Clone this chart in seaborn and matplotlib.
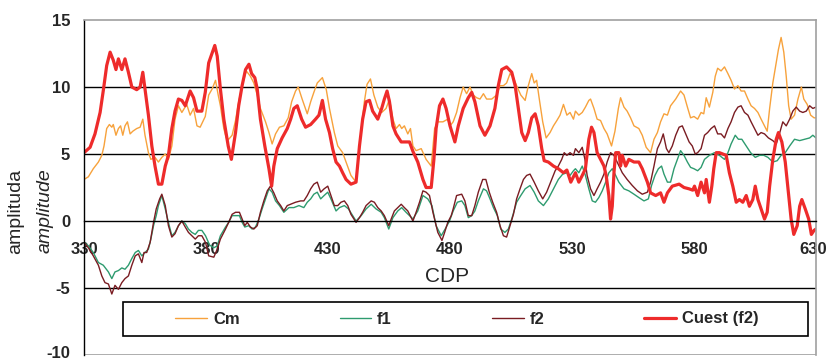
import matplotlib
matplotlib.use("Agg")
import matplotlib.pyplot as plt
import matplotlib.transforms as mtransforms
import seaborn as sns
from matplotlib.patches import Rectangle

# ---------------- data ----------------
cm_x = [330, 331.8, 333.8, 335.9, 337.3, 338.2, 339.3, 340.4, 341.4, 342, 343.1, 344.1, 345, 345.9, 346.8,
        347.8, 348.9, 350, 351.6, 353, 354.1, 355, 356.4, 357.4, 359.1, 360.5, 361.9, 363.3, 364.6, 366,
        367.3, 368.7, 370.1, 372.1, 373.5, 374.9, 376.3, 377.6, 379.7, 381.1, 382.5, 383.9, 385, 385.9,
        387.3, 388.3, 389.3, 390.7, 392.1, 393.4, 394.8, 396.5, 398.2, 399.6, 401, 402.3, 404.4, 405.8,
        407.1, 408.5, 410.1, 411.9, 413.7, 415.1, 416.7, 417.8, 419.4, 421.5, 422.9, 424.2, 425.6, 427.7,
        429.3, 430.6, 432.6, 434, 436, 437.4, 439.4, 441.5, 443.5, 444.9, 446, 447.4, 448.8, 450.4, 452,
        453.8, 455.2, 456.6, 457.9, 459.3, 460.2, 461.3, 462.7, 463.8, 464.8, 466.1, 468.2, 470.2, 472.3,
        473.7, 475, 477.1, 479.1, 480, 481.3, 482.7, 484.1, 485.4, 486.8, 488.2, 489.5, 490.9, 492.3,
        493.7, 495, 497.1, 499.1, 500.5, 501.9, 503.2, 504.6, 506, 507.3, 509, 510.8, 512.1, 513.5, 514.5,
        515.5, 516.6, 518, 519.4, 521, 522.4, 523.8, 525.1, 526.5, 527.9, 529.2, 530.6, 531.4, 532.8,
        534.2, 535.5, 536.9, 537.6, 539, 540.3, 541.7, 543.1, 544.4, 546.2, 547.6, 549, 549.9, 551.3,
        552.6, 554, 555.4, 557.4, 558.8, 560.4, 562.2, 563.6, 565, 566.3, 567.7, 569.1, 570.4, 572.5,
        574.5, 575.9, 577.3, 578.6, 580, 581.5, 582.9, 584, 585, 586.3, 587.7, 588.7, 589.7, 591.1, 592.5,
        593.9, 595.2, 596.6, 598, 599.3, 600.7, 602.1, 603.4, 604.8, 606.2, 607.5, 608.9, 610, 611, 612.3,
        613.7, 614.6, 615.7, 616.8, 617.8, 618.8, 619.8, 621.2, 622.6, 624, 625, 626.4, 627.8, 629.2, 630]
cm_y = [3.1, 3.3, 3.9, 4.4, 4.9, 5.6, 6.9, 7.2, 7.0, 7.2, 6.4, 6.9, 7.1, 6.4, 7.1,
        7.4, 6.5, 6.7, 6.9, 7.0, 7.6, 6.4, 5.1, 4.6, 4.75, 4.4, 4.75, 5.0, 4.6, 5.6,
        7.6, 8.6, 8.1, 8.7, 7.9, 8.4, 7.1, 7.0, 7.8, 9.4, 9.85, 10.5, 9.4, 8.6,
        6.9, 6.2, 6.1, 6.4, 7.5, 8.9, 10.1, 11.2, 10.8, 10.3, 9.4, 8.4, 7.4, 6.6,
        5.75, 6.5, 7.0, 7.1, 7.7, 8.9, 9.7, 10.0, 9.1, 8.0, 8.9, 9.6, 10.3, 10.7,
        9.8, 8.4, 6.6, 5.6, 5.1, 4.4, 3.4, 2.9, 6.6, 8.9, 10.2, 10.6, 9.4, 8.5, 8.1,
        8.4, 9.1, 7.6, 6.9, 7.2, 6.9, 7.1, 6.5, 6.9, 5.6, 5.25, 5.4, 4.6, 4.1,
        6.9, 7.4, 7.4, 7.6, 7.1, 7.4, 8.1, 9.2, 10.0, 9.5, 10.0, 9.4, 9.2, 9.1,
        9.5, 9.1, 9.1, 9.4, 10.1, 10.1, 10.3, 11.0, 10.7, 10.1, 9.4, 9.0, 10.1, 11.0, 10.3,
        10.5, 9.1, 7.4, 6.2, 6.6, 7.1, 7.5, 7.9, 8.7, 7.9, 8.1, 7.6, 8.2, 7.9,
        8.1, 8.5, 9.0, 9.1, 8.4, 7.6, 7.5, 6.9, 6.5, 5.6, 6.7, 8.4, 9.2, 8.5,
        8.2, 7.7, 7.1, 6.9, 6.4, 5.5, 5.1, 6.1, 6.6, 7.4, 8.0, 7.9, 8.6, 9.1,
        9.7, 9.4, 8.5, 7.7, 7.8, 7.6, 8.1, 8.0, 9.2, 8.5, 9.6, 10.8, 11.4, 11.2, 11.5,
        11.0, 10.5, 9.85, 10.1, 9.7, 9.7, 9.1, 8.6, 8.4, 8.1, 7.6, 7.1, 6.7, 8.4, 10.3,
        11.8, 12.8, 13.7, 12.6, 10.8, 8.6, 7.6, 7.9, 9.1, 10.0, 9.1, 8.7, 7.9, 7.7, 7.7]

f1_x = [330, 331.8, 333.8, 335.9, 337.9, 340, 341.4, 342.7, 344.1, 345.5, 346.8, 348.2, 349.6, 351, 352.3,
        353.7, 355, 356.4, 357.4, 358.5, 359.6, 360.5, 361.9, 363.3, 364.6, 366, 367.3, 368.7, 370.1,
        371.5, 372.8, 374.2, 375.6, 376.9, 378.3, 379.8, 381.5, 383.2, 384.6, 385.9, 388, 389.3, 390.7,
        392.1, 393.7, 394.8, 395.9, 397.5, 398.9, 400.3, 401.7, 403, 404.4, 405.8, 407.1, 408.5, 410.1,
        411.9, 414, 416, 418.1, 420.1, 421.5, 422.9, 424.2, 425.6, 427, 428.4, 429.9, 431.2, 433.3,
        434.7, 436.7, 438.4, 440.1, 441.5, 443.6, 445.6, 447.7, 449.7, 451.8, 453.1, 454.9, 456.6,
        458.6, 460.2, 462, 464.8, 466.8, 468.9, 470.9, 472.6, 474.3, 476.4, 478, 479.8, 481.3, 483,
        484.8, 486.1, 487.5, 488.9, 490.2, 491.6, 493.7, 495, 496.4, 497.8, 499.4, 500.8, 502.5, 503.9,
        505.3, 507.3, 509, 510.8, 512.8, 514.5, 516.2, 518.3, 520.3, 522.4, 524.4, 526.2, 527.9, 529.2,
        530.6, 531.4, 532.8, 534.2, 535.5, 536.9, 538.3, 539.6, 541, 542.4, 543.8, 545.1, 546.5, 547.9,
        549.2, 551.3, 553.3, 555.4, 557.4, 559.5, 561.3, 562.6, 564, 565.4, 566.7, 567.7, 569.1, 570.4,
        571.8, 573.2, 574.5, 575.9, 577.3, 578.6, 580, 581.5, 582.9, 584.3, 586.3, 588.4, 590.4, 592.5,
        593.9, 595.2, 596.9, 598.2, 599.6, 601.4, 603.2, 605.1, 606.9, 608.6, 610.3, 612.3, 614.1,
        615.7, 617.4, 619.2, 621.2, 623.3, 625.3, 627.4, 628.7, 630]
f1_y = [-1.6, -1.85, -2.35, -3.1, -3.3, -3.8, -4.3, -3.8, -3.7, -3.5, -3.6, -3.3, -2.8, -2.35, -2.2,
        -2.6, -2.35, -2.1, -1.35, -0.35, 0.4, 1.15, 1.9, 0.9, -0.1, -1.1, -0.85, -0.35, 0.0,
        -0.2, -0.6, -0.85, -1.0, -0.7, -0.7, -1.1, -1.8, -2.0, -1.85, -1.1, -0.45, -0.1, 0.4,
        0.4, 0.4, -0.1, -0.45, -0.35, -0.6, -0.45, 0.15, 0.9, 1.65, 2.4, 2.15, 1.5, 1.15,
        0.65, 1.0, 1.0, 1.15, 1.0, 1.4, 1.65, 2.0, 2.15, 1.65, 1.9, 2.15, 1.65, 0.75,
        1.0, 1.15, 0.9, 0.4, 0.0, 0.4, 0.9, 1.25, 0.9, 0.65, 0.25, -0.6, 0.25,
        0.75, 1.0, 0.65, 0.15, 0.75, 1.9, 1.65, 1.15, -0.35, -1.1, -0.6, 0.0, 0.75, 1.4,
        1.5, 1.15, 0.25, 0.4, 0.75, 1.5, 2.4, 2.25, 1.65, 1.0, 0.4, -0.6, -0.85, -0.6,
        0.15, 1.4, 1.9, 2.4, 2.65, 2.15, 1.5, 1.15, 1.65, 2.4, 3.1, 3.5, 3.6, 3.4,
        3.75, 3.9, 3.6, 4.1, 3.4, 2.4, 1.5, 1.4, 1.75, 2.25, 2.9, 3.6, 3.9, 3.4,
        2.9, 2.4, 2.25, 2.0, 1.75, 1.5, 1.65, 2.65, 3.4, 3.9, 4.1, 3.5, 2.9, 2.9,
        3.9, 4.6, 5.25, 4.9, 4.4, 4.0, 3.9, 3.75, 4.0, 4.6, 4.9, 5.1, 4.9, 4.6,
        5.1, 5.75, 6.4, 6.1, 6.1, 5.6, 5.1, 4.75, 4.9, 4.9, 4.75, 4.4, 4.5,
        4.9, 5.1, 5.6, 6.1, 6.0, 6.1, 6.2, 6.4, 6.2]

f2_x = [330, 331.8, 333.8, 335.9, 337.3, 338.6, 340, 341.4, 342.7, 344.1, 345.5, 346.8, 348.2, 349.6, 351,
        352.3, 353.7, 354.6, 355.7, 357.1, 358.5, 359.6, 361, 361.9, 363.3, 364.6, 366, 367.3, 368.7,
        370.1, 371.5, 372.8, 374.2, 375.6, 376.9, 378.3, 379.8, 381.1, 383.2, 384.6, 385.9, 388, 389.3,
        390.7, 392.1, 393.7, 394.8, 395.9, 396.9, 398.2, 399.6, 401, 402.3, 403.7, 405.1, 406.4, 407.8,
        409.2, 410.6, 411.9, 413.3, 414.7, 416.7, 418.8, 420.1, 421.5, 422.9, 424.2, 425.6, 427, 428.4,
        429.9, 431.2, 432.6, 434, 435.3, 436.7, 438.1, 439.4, 441.5, 442.9, 444.2, 445.6, 447.7, 449,
        450.4, 451.8, 453.1, 454.9, 455.9, 457.2, 458.6, 460, 461.3, 462.7, 464.8, 466.1, 467.5, 468.9,
        470.2, 471.6, 473, 475, 476.7, 477.8, 479.1, 480.5, 481.3, 482.7, 484.8, 486.1, 487.5, 488.9,
        490.2, 491.6, 493.4, 494.7, 496.1, 497.5, 499.1, 500.5, 501.9, 503.2, 504.6, 506, 507.3, 508.7,
        510.1, 511.4, 512.8, 514.5, 516.2, 518, 519.6, 521.7, 523.1, 524.4, 525.8, 526.8, 527.9, 529.2,
        530.6, 531.4, 532.8, 534.2, 535.3, 536.2, 537.6, 539, 540.3, 541.7, 543.1, 544.4, 545.8, 547.2,
        548.5, 550.6, 552.6, 554.7, 556.8, 558.8, 560.9, 562.2, 563.6, 565, 566.3, 567.4, 568.7, 569.7,
        571.1, 572.5, 573.9, 575.2, 576.6, 578, 579.3, 580.5, 581.5, 582.9, 584.3, 585.6, 587, 588.4,
        589.7, 591.1, 592.5, 593.9, 595.2, 596.6, 598, 599.3, 600.7, 602.1, 603.4, 604.8, 606.2, 607.5,
        608.9, 610.5, 612.3, 613.7, 615, 616.4, 617.8, 619.2, 620.5, 621.9, 623.3, 624.6, 626, 627.4,
        628.7, 630]
f2_y = [-1.6, -2.0, -2.6, -3.3, -4.1, -4.6, -4.7, -5.45, -4.8, -5.1, -4.6, -4.3, -4.1, -3.3, -2.6,
        -2.45, -3.1, -2.35, -2.35, -1.6, -0.1, 0.9, 1.65, 2.0, 1.15, -0.35, -1.2, -0.95, -0.35,
        0.0, -0.45, -0.85, -1.1, -1.35, -1.1, -1.1, -1.6, -2.6, -2.7, -2.1, -1.35, -0.6, -0.1,
        0.5, 0.65, 0.65, 0.15, -0.35, -0.1, -0.45, -0.6, -0.35, 0.65, 1.5, 2.25, 2.6, 2.1,
        1.5, 1.15, 0.75, 1.15, 1.25, 1.4, 1.5, 1.5, 1.9, 2.4, 2.75, 2.9, 2.15, 2.4,
        2.6, 1.9, 1.15, 1.15, 1.4, 1.5, 1.15, 0.5, -0.1, 0.25, 0.65, 1.15, 1.5, 1.4,
        1.0, 0.75, 0.4, -0.35, 0.15, 0.75, 1.0, 1.25, 1.0, 0.75, 0.0, 0.65, 1.4, 2.25,
        2.15, 1.9, 0.65, -0.85, -1.45, -0.85, -0.1, 0.4, 0.9, 1.9, 2.0, 1.5, 0.4, 0.4,
        1.15, 2.15, 3.1, 3.1, 2.15, 1.4, 0.65, -0.35, -1.1, -1.2, -0.35, 0.5, 1.65, 2.4,
        3.1, 3.4, 3.5, 2.9, 2.25, 1.65, 2.15, 3.1, 3.75, 4.1, 4.6, 5.1, 4.9, 5.1,
        4.9, 5.4, 5.1, 5.5, 4.6, 3.4, 2.4, 1.9, 2.4, 2.9, 3.5, 4.4, 5.1, 4.9,
        4.4, 3.6, 3.1, 2.65, 2.25, 2.0, 2.15, 2.9, 4.1, 5.4, 5.9, 6.5, 5.4, 5.1,
        5.6, 6.4, 7.0, 7.1, 6.5, 5.9, 5.6, 5.0, 5.1, 5.4, 6.4, 6.6, 6.9, 7.1,
        6.5, 6.5, 6.2, 6.9, 7.4, 8.1, 8.5, 8.6, 8.1, 7.9, 7.4, 6.9, 6.4, 6.6,
        6.5, 6.2, 6.0, 5.75, 6.5, 7.4, 7.1, 7.6, 8.2, 8.5, 8.2, 8.1, 8.2, 8.6,
        8.4, 8.5]

cuest_x = [330, 332.5, 334.5, 336.6, 338, 339.3, 340.7, 342, 343.1, 344.1, 345.5, 346.8, 348.2, 349.6,
           351.6, 353, 354.1, 355, 356.4, 357.8, 359.1, 360.5, 361.9, 363.3, 364.6, 366, 367.3, 368.7,
           370.1, 371.5, 373.5, 374.9, 376.3, 378.3, 379.7, 381.1, 383.6, 384.6, 385.9, 387.3, 389.1,
           390.4, 392.1, 393.4, 394.8, 396.2, 397.6, 398.7, 400, 401, 402.3, 404.1, 405.8, 406.9, 407.8,
           409.2, 411.2, 413.3, 414.7, 416, 417.4, 419.2, 420.8, 422.9, 424.9, 426.3, 427.7, 429, 430.6,
           431.9, 433.3, 434.7, 436, 437.4, 439.4, 441.5, 442.9, 444.2, 445.6, 447, 448.3, 450.4, 452,
           453.1, 454.2, 455.2, 456.6, 457.9, 460, 463.4, 464.8, 466.8, 468.9, 470.2, 472.3, 473.4,
           474.3, 475.7, 477.1, 478.4, 480, 482, 483.4, 485.4, 487.5, 488.9, 490.2, 492.3, 494.3, 496.4,
           498.4, 499.8, 501.2, 503.2, 505.3, 506.7, 508, 509.4, 510.8, 512.1, 513.5, 514.9, 516.2, 517.6,
           518.6, 520.3, 522.4, 524.4, 526.5, 527.9, 529.5, 531.4, 532.8, 534.2, 535.5, 536.9, 538, 539,
           540.3, 541.7, 543.1, 544, 545.1, 545.8, 546.5, 547.2, 547.9, 549.2, 549.9, 550.6, 552, 553.3,
           555.4, 557.4, 558.8, 560.9, 562.2, 564.3, 566.3, 567.7, 569.1, 571.1, 573.9, 575.9, 578,
           579.5, 580.2, 581.5, 582.9, 584.3, 585, 586.3, 587.3, 588.1, 589.1, 590.4, 591.8, 593.2, 594.5,
           595.9, 597.3, 598.6, 600, 601.4, 602.7, 604.1, 605.1, 606.2, 607.5, 608.9, 610, 611, 612.3,
           613.7, 614.6, 616, 617.4, 618.8, 619.8, 620.9, 622.3, 623.3, 624.2, 625.6, 627, 628.1, 629.2,
           630]
cuest_y = [5.1, 5.5, 6.5, 8.1, 9.85, 11.6, 12.6, 12.0, 11.3, 12.1, 11.3, 12.1, 11.1, 10.0,
           9.8, 10.0, 11.1, 9.85, 7.9, 5.6, 4.1, 2.75, 2.75, 4.1, 4.9, 6.9, 8.2, 9.1,
           9.0, 8.6, 9.7, 9.2, 8.2, 8.2, 9.6, 11.8, 13.1, 12.3, 9.85, 7.6, 5.6,
           4.6, 6.6, 8.6, 10.1, 11.3, 11.7, 11.0, 10.7, 9.85, 7.6, 5.6, 3.9, 2.6, 4.1,
           5.4, 6.2, 6.9, 7.6, 8.4, 8.6, 7.6, 7.0, 7.2, 7.6, 7.9, 9.0, 7.6, 6.6,
           5.4, 4.4, 4.1, 3.6, 3.1, 2.75, 2.9, 5.6, 7.6, 8.9, 9.0, 8.2, 7.6, 8.4,
           9.1, 9.7, 8.9, 7.1, 6.5, 5.9, 5.9, 5.2, 4.4, 3.1, 2.5, 2.5, 4.6,
           6.9, 8.6, 9.1, 8.4, 7.1, 5.9, 7.1, 8.4, 9.2, 9.6, 8.9, 7.1, 6.4, 7.1,
           8.4, 10.1, 11.3, 11.5, 11.1, 10.1, 8.4, 6.6, 6.0, 6.6, 7.7, 8.0, 7.1, 5.4,
           4.5, 4.4, 4.1, 3.9, 3.6, 3.8, 2.9, 3.6, 2.9, 3.4, 3.9, 6.1, 7.0, 6.6,
           5.1, 4.6, 4.1, 3.4, 1.9, 0.15, 1.1, 3.6, 5.1, 5.1, 4.1, 4.9, 4.1, 4.6,
           4.4, 4.4, 3.9, 2.9, 2.1, 1.9, 2.1, 1.4, 2.1, 2.6, 2.75, 2.5, 2.4,
           2.3, 2.6, 1.9, 2.9, 2.1, 3.1, 1.4, 2.6, 3.9, 5.1, 5.1, 5.0, 4.9, 3.6,
           2.6, 1.4, 1.6, 1.4, 1.9, 1.1, 1.6, 2.6, 1.6, 0.9, 0.15, 0.65, 2.6, 4.6,
           6.1, 6.6, 5.9, 4.4, 1.9, 0.15, -1.0, -0.35, 1.1, 1.6, 0.9, 0.15, -1.0, -0.7,
           -0.6]

series_names = ["Cm", "f1", "f2", "Cuest (f2)"]
series_colors = ["#F7A23C", "#2E9B6F", "#7A1C22", "#EE2B2B"]
x_ticks = [330, 380, 430, 480, 530, 580, 630]
y_ticks = [-10, -5, 0, 5, 10, 15]

# ---------------- style ----------------
sns.set_style("white")
plt.rcParams["font.family"] = ["Liberation Sans", "DejaVu Sans"]

fig = plt.figure(figsize=(8.28, 3.61), dpi=100)
ax = fig.add_axes([84 / 828, 1 - 355 / 361, (816 - 84) / 828, (355 - 20) / 361])

widths = [1.0, 1.0, 1.0, 2.3]
datasets = [(cm_x, cm_y), (f1_x, f1_y), (f2_x, f2_y), (cuest_x, cuest_y)]
for (xs, ys), name, col, lw in zip(datasets, series_names, series_colors, widths):
    sns.lineplot(x=xs, y=ys, ax=ax, color=col, linewidth=lw, label=name,
                 estimator=None, sort=False)

ax.set_xlim(330, 630)
ax.set_ylim(-10, 15)

# gridlines
for g in [10, 5, -5]:
    ax.axhline(g, color="black", linewidth=1.0, zorder=0.5)
ax.axhline(-10, color="#A0A0A0", linewidth=1.2, zorder=0.5)

# spines
ax.spines["bottom"].set_position(("data", 0))
ax.spines["bottom"].set_color("black")
ax.spines["bottom"].set_linewidth(1.0)
ax.spines["left"].set_color("black")
ax.spines["left"].set_linewidth(1.0)
for s in ["top", "right"]:
    ax.spines[s].set_color("#A0A0A0")
    ax.spines[s].set_linewidth(1.2)

ax.set_xticks(x_ticks)
ax.set_yticks(y_ticks)
ax.set_xticklabels([str(t) for t in x_ticks], fontsize=12, fontweight="bold")
ax.set_yticklabels([str(t) for t in y_ticks], fontsize=12, fontweight="bold")
ax.tick_params(axis="x", direction="out", length=5, width=1, pad=10, color="black")
ax.tick_params(axis="y", direction="out", length=6, width=1, pad=4, color="black")
ax.set_xlabel("")
ax.set_ylabel("")

# keep the edge labels fully inside the picture
xlabs = ax.get_xticklabels()
xlabs[-1].set_transform(xlabs[-1].get_transform() +
                        mtransforms.ScaledTranslation(-3 / 100, 0, fig.dpi_scale_trans))
ylabs = ax.get_yticklabels()
ylabs[0].set_transform(ylabs[0].get_transform() +
                       mtransforms.ScaledTranslation(0, 2.5 / 100, fig.dpi_scale_trans))

# CDP label
ax.text(479, -4.15, "CDP", fontsize=15, ha="center", va="center")

# y labels
fig.text(16 / 828, 1 - 211 / 361, "amplituda", rotation=90, fontsize=14,
         ha="center", va="center")
fig.text(45 / 828, 1 - 211 / 361, "amplitude", rotation=90, fontsize=14,
         style="italic", ha="center", va="center")

# legend box + legend
box = Rectangle((123 / 828, 1 - 336 / 361), (808 - 123) / 828, (336 - 302) / 361,
                transform=fig.transFigure, fill=False, edgecolor="black", linewidth=1.2,
                zorder=5)
fig.add_artist(box)
handles, labels = ax.get_legend_handles_labels()
leg = ax.legend(handles, labels, ncol=4, frameon=False,
                loc="center", bbox_to_anchor=(467 / 828, 1 - 319 / 361),
                bbox_transform=fig.transFigure,
                prop={"size": 12, "weight": "bold"},
                handlelength=1.9, handletextpad=0.36, columnspacing=6.0,
                borderpad=0.2)

fig.savefig("out.png", dpi=100, facecolor="white")
